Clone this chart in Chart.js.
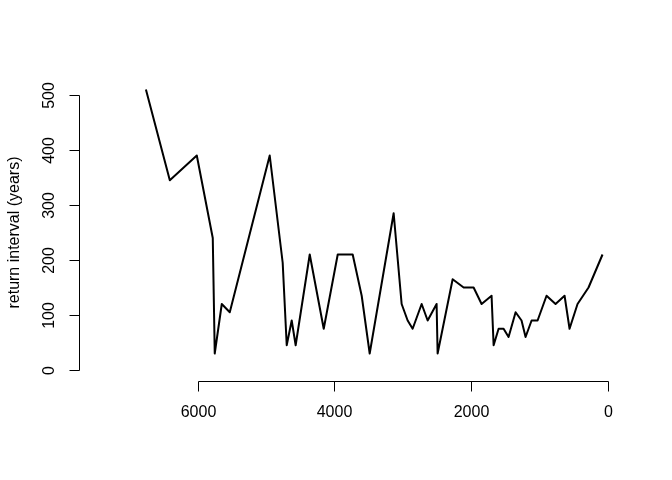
<!DOCTYPE html>
<html lang="en">
<head>
    <meta charset="UTF-8">
    <title>Return interval</title>
    <script src="https://cdn.jsdelivr.net/npm/chart.js"></script>
    <style>
        body { margin: 0; background: #fff; }
    </style>
</head>
<body>
    <canvas id="riChart" width="672" height="480"></canvas>

    <script>
        // years before present and return interval (years)
        const years = [6760, 6410, 6015, 5781, 5752, 5649, 5532, 4947, 4757, 4698,
            4625, 4567, 4361, 4156, 3951, 3732, 3600, 3483, 3132, 3015,
            2927, 2854, 2722, 2634, 2503, 2488, 2268, 2107, 1961, 1844,
            1698, 1668, 1595, 1522, 1449, 1346, 1259, 1200, 1112, 1024,
            893, 761, 629, 556, 439, 278, 73];
        const intervals = [510, 345, 390, 240, 30, 120, 105, 390, 195, 45,
            90, 45, 210, 75, 210, 210, 135, 30, 285, 120,
            90, 75, 120, 90, 120, 30, 165, 150, 150, 120,
            135, 45, 75, 75, 60, 105, 90, 60, 90, 90,
            135, 120, 135, 75, 120, 150, 210];
        const xTicks = [6000, 4000, 2000, 0];
        const yTicks = [0, 100, 200, 300, 400, 500];
        const yTitle = 'return interval (years)';

        const FONT = '16px "Liberation Sans", Arial, sans-serif';

        // base-graphics style axes: line from first to last tick, ticks outside
        const rAxes = {
            id: 'rAxes',
            afterDraw(chart) {
                const c = chart.ctx;
                const xs = chart.scales.x, ys = chart.scales.y;
                const area = chart.chartArea;
                const tick = 10;
                c.save();
                c.strokeStyle = '#000';
                c.fillStyle = '#000';
                c.lineWidth = 1;
                c.font = FONT;

                // x axis
                const yb = Math.round(area.bottom) + 0.5;
                const xpx = xTicks.map(v => Math.round(xs.getPixelForValue(v)) + 0.5);
                c.beginPath();
                c.moveTo(Math.min(...xpx), yb);
                c.lineTo(Math.max(...xpx), yb);
                xpx.forEach(p => { c.moveTo(p, yb); c.lineTo(p, yb + tick); });
                c.stroke();
                c.textAlign = 'center';
                c.textBaseline = 'middle';
                xTicks.forEach((v, i) => c.fillText(String(v), xpx[i], yb + 31));

                // y axis
                const xl = Math.round(area.left) + 0.5;
                const ypx = yTicks.map(v => Math.round(ys.getPixelForValue(v)) + 0.5);
                c.beginPath();
                c.moveTo(xl, Math.min(...ypx));
                c.lineTo(xl, Math.max(...ypx));
                ypx.forEach(p => { c.moveTo(xl, p); c.lineTo(xl - tick, p); });
                c.stroke();
                yTicks.forEach((v, i) => {
                    c.save();
                    c.translate(xl - 30, ypx[i]);
                    c.rotate(-Math.PI / 2);
                    c.fillText(String(v), 0, 0);
                    c.restore();
                });

                // y title
                c.save();
                c.translate(15, (area.top + area.bottom) / 2);
                c.rotate(-Math.PI / 2);
                c.fillText(yTitle, 0, 0);
                c.restore();
                c.restore();
            }
        };

        const ctx = document.getElementById('riChart').getContext('2d');
        new Chart(ctx, {
            type: 'line',
            data: {
                datasets: [{
                    data: years.map((y, i) => ({ x: y, y: intervals[i] })),
                    borderColor: '#000',
                    borderWidth: 2,
                    pointRadius: 0,
                    tension: 0,
                    borderJoinStyle: 'round',
                    fill: false
                }]
            },
            options: {
                responsive: false,
                animation: false,
                layout: { padding: { left: 79, right: 44, top: 84, bottom: 99 } },
                plugins: { legend: { display: false }, tooltip: { enabled: false } },
                scales: {
                    x: { type: 'linear', reverse: true, min: -300, max: 7740, display: false },
                    y: { min: -20, max: 520, display: false }
                }
            },
            plugins: [rAxes]
        });
    </script>
</body>
</html>
